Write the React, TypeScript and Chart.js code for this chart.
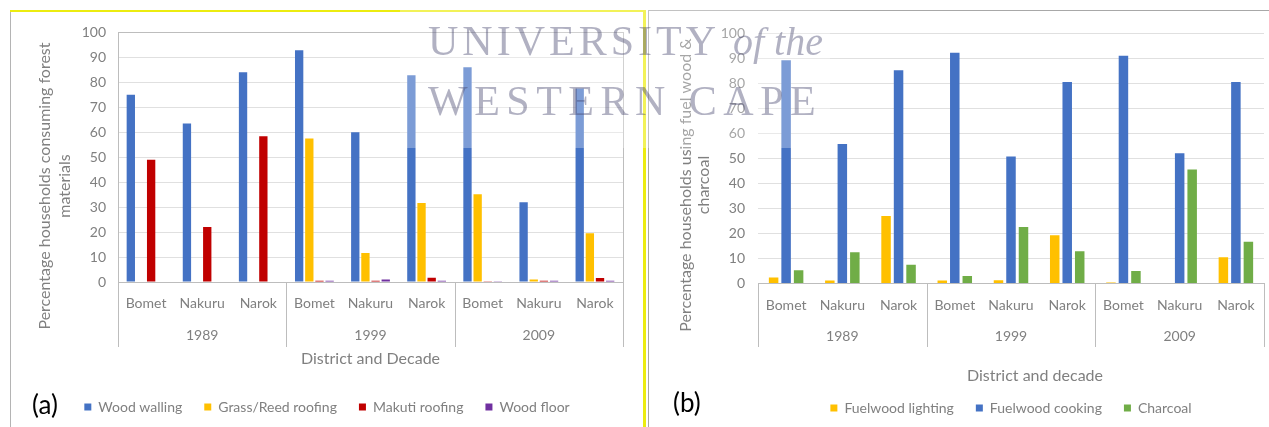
import React, { useEffect, useRef } from "react";
import { Chart, registerables } from "chart.js";

Chart.register(...registerables);

// ---------- data ----------
const districts = ["Bomet", "Nakuru", "Narok", "Bomet", "Nakuru", "Narok", "Bomet", "Nakuru", "Narok"];
const decades = ["1989", "1999", "2009"];

// panel (a) – forest materials
const woodWalling = [75, 63.5, 84, 92.8, 60, 82.8, 86, 32, 77.5];
const grassReedRoofing = [0, 0, 0, 57.5, 11.6, 31.7, 35.2, 1, 19.5];
const makutiRoofing = [49, 22, 58.4, 0.5, 0.5, 1.7, 0.3, 0.5, 1.6];
const woodFloor = [0, 0, 0, 0.5, 1, 0.5, 0.3, 0.5, 0.5];

// panel (b) – fuel wood & charcoal
const fuelwoodLighting = [2.4, 1.2, 27, 1.2, 1.3, 19.3, 0.4, 0.2, 10.5];
const fuelwoodCooking = [89.3, 55.8, 85.3, 92.3, 50.8, 80.6, 91.1, 52.1, 80.6];
const charcoal = [5.3, 12.5, 7.5, 3, 22.6, 12.9, 5, 45.6, 16.7];

const yMin = 0;
const yMax = 100;
const yStep = 10;

// ---------- styles ----------
const FONT = "Lato, 'Open Sans', sans-serif";
const TEXT = "#808080";
const GRID = "#e0e0e0";
const AXIS_LINE = "#bdbdbd";
const BLUE = "#4472c4";
const GOLD = "#ffc000";
const RED = "#c00000";
const PURPLE = "#7030a0";
const GREEN = "#70ad47";
const YELLOW = "#ecec10";

type FrameCfg = {
  yTitle: string[];
  yTitleX: number[];
  yTitleY: number;
  yearY: number;
  sepBottom: number;
  boxed: boolean;
  xTitle?: { text: string; x: number; y: number };
};

function framePlugin(cfg: FrameCfg) {
  return {
    id: "frame",
    afterDraw(chart: any) {
      const { ctx, chartArea } = chart;
      const xs = chart.scales.x;
      const per = districts.length / decades.length;
      const w = xs.getPixelForValue(1) - xs.getPixelForValue(0);
      ctx.save();
      ctx.strokeStyle = AXIS_LINE;
      ctx.lineWidth = 1;
      if (cfg.boxed) {
        ctx.strokeRect(
          Math.round(chartArea.left) + 0.5,
          Math.round(chartArea.top) + 0.5,
          Math.round(chartArea.right - chartArea.left),
          Math.round(chartArea.bottom - chartArea.top)
        );
      }
      for (let g = 0; g <= decades.length; g++) {
        const px = Math.round(xs.getPixelForValue(g * per) - w / 2) + 0.5;
        ctx.beginPath();
        ctx.moveTo(px, chartArea.bottom);
        ctx.lineTo(px, cfg.sepBottom);
        ctx.stroke();
      }
      ctx.fillStyle = TEXT;
      ctx.textAlign = "center";
      ctx.textBaseline = "middle";
      ctx.font = `14px ${FONT}`;
      decades.forEach((d, g) => {
        ctx.fillText(d, xs.getPixelForValue(g * per + (per - 1) / 2), cfg.yearY);
      });
      ctx.font = `16px ${FONT}`;
      if (cfg.xTitle) {
        ctx.fillText(cfg.xTitle.text, cfg.xTitle.x, cfg.xTitle.y);
      }
      cfg.yTitle.forEach((t, i) => {
        ctx.save();
        ctx.translate(cfg.yTitleX[i], cfg.yTitleY);
        ctx.rotate(-Math.PI / 2);
        ctx.fillText(t, 0, 0);
        ctx.restore();
      });
      ctx.restore();
    },
  };
}

function makeOptions(p: {
  padTop: number;
  padLeft: number;
  padRight: number;
  padBottom: number;
  yWidth: number;
  xHeight: number;
  xTickPad: number;
  yTickPad: number;
  xTitle: string;
  xTitleShow: boolean;
  xTitlePadBottom: number;
  legendFull: boolean;
}) {
  return {
    responsive: false,
    animation: false as const,
    layout: { padding: { left: p.padLeft, right: p.padRight, top: p.padTop, bottom: p.padBottom } },
    scales: {
      x: {
        grid: { display: false, drawTicks: false },
        border: { display: true, color: AXIS_LINE },
        ticks: { color: TEXT, font: { family: FONT, size: 14 }, padding: p.xTickPad, maxRotation: 0, autoSkip: false },
        title: {
          display: p.xTitleShow,
          text: p.xTitle,
          color: TEXT,
          font: { family: FONT, size: 16 },
          padding: { top: 0, bottom: p.xTitlePadBottom },
        },
        afterFit: (s: any) => {
          s.height = p.xHeight;
        },
      },
      y: {
        min: yMin,
        max: yMax,
        grid: { color: GRID, drawTicks: false },
        border: { display: false },
        ticks: { stepSize: yStep, color: TEXT, font: { family: FONT, size: 14 }, padding: p.yTickPad },
        afterFit: (s: any) => {
          s.width = p.yWidth;
        },
      },
    },
    plugins: {
      legend: {
        position: "bottom" as const,
        fullSize: p.legendFull,
        labels: {
          boxWidth: 7,
          boxHeight: 7,
          padding: 22,
          color: TEXT,
          font: { family: FONT, size: 14 },
        },
      },
      tooltip: { enabled: false },
    },
  };
}

function ChartA() {
  const ref = useRef<HTMLCanvasElement>(null);
  useEffect(() => {
    if (!ref.current) return;
    const bar = { borderWidth: 0, categoryPercentage: 0.724, barPercentage: 0.82 };
    const chart = new Chart(ref.current, {
      type: "bar",
      data: {
        labels: districts,
        datasets: [
          { label: "Wood walling", data: woodWalling, backgroundColor: BLUE, ...bar },
          { label: "Grass/Reed roofing", data: grassReedRoofing, backgroundColor: GOLD, ...bar },
          { label: "Makuti roofing", data: makutiRoofing, backgroundColor: RED, ...bar },
          { label: "Wood floor", data: woodFloor, backgroundColor: PURPLE, ...bar },
        ],
      },
      options: makeOptions({
        padTop: 20,
        padLeft: 20,
        padRight: 20,
        padBottom: 3,
        yWidth: 87,
        xHeight: 96,
        xTickPad: 13,
        yTickPad: 12,
        xTitle: "District and Decade",
        xTitleShow: true,
        xTitlePadBottom: 10,
        legendFull: true,
      }) as any,
      plugins: [
        framePlugin({
          yTitle: ["Percentage households consuming forest", "materials"],
          yTitleX: [34, 54],
          yTitleY: 174,
          yearY: 323,
          sepBottom: 335,
          boxed: true,
        }),
      ],
    });
    return () => chart.destroy();
  }, []);
  return <canvas ref={ref} width={632} height={415} style={{ width: 632, height: 415, display: "block" }} />;
}

function ChartB() {
  const ref = useRef<HTMLCanvasElement>(null);
  useEffect(() => {
    if (!ref.current) return;
    const bar = { borderWidth: 0, categoryPercentage: 0.667, barPercentage: 0.76 };
    const chart = new Chart(ref.current, {
      type: "bar",
      data: {
        labels: districts,
        datasets: [
          { label: "Fuelwood lighting", data: fuelwoodLighting, backgroundColor: GOLD, ...bar },
          { label: "Fuelwood cooking", data: fuelwoodCooking, backgroundColor: BLUE, ...bar },
          { label: "Charcoal", data: charcoal, backgroundColor: GREEN, ...bar },
        ],
      },
      options: makeOptions({
        padTop: 18,
        padLeft: 0,
        padRight: 5,
        padBottom: 2,
        yWidth: 108,
        xHeight: 95.6,
        xTickPad: 14,
        yTickPad: 13,
        xTitle: "District and decade",
        xTitleShow: false,
        xTitlePadBottom: 0,
        legendFull: false,
      }) as any,
      plugins: [
        framePlugin({
          yTitle: ["Percentage households using fuel wood &", "charcoal"],
          yTitleX: [36, 54],
          yTitleY: 173,
          yearY: 324,
          sepBottom: 335,
          boxed: false,
          xTitle: { text: "District and decade", x: 385, y: 364 },
        }),
      ],
    });
    return () => chart.destroy();
  }, []);
  return <canvas ref={ref} width={619} height={415} style={{ width: 619, height: 415, display: "block" }} />;
}

export default function App() {
  const abs = (s: React.CSSProperties): React.CSSProperties => ({ position: "absolute", ...s });
  const wm: React.CSSProperties = {
    position: "absolute",
    fontFamily: "'Liberation Serif', 'DejaVu Serif', serif",
    fontSize: 42,
    lineHeight: "42px",
    color: "rgba(70,70,110,0.42)",
    whiteSpace: "nowrap",
  };
  return (
    <div
      style={{
        position: "fixed",
        left: 0,
        top: 0,
        width: 1269,
        height: 427,
        overflow: "hidden",
        background: "#fff",
      }}
    >
      {/* panel (a) frame */}
      <div style={abs({ left: 10, top: 10, width: 1, height: 417, background: "#b4b4b4" })} />
      <div style={abs({ left: 10, top: 10, width: 636, height: 2, background: YELLOW })} />
      <div style={abs({ left: 643, top: 10, width: 3, height: 417, background: YELLOW })} />
      {/* panel (b) frame */}
      <div style={abs({ left: 648, top: 10, width: 1, height: 417, background: "#a8a8a8" })} />
      <div style={abs({ left: 648, top: 10, width: 621, height: 1, background: "#a8a8a8" })} />

      <div style={abs({ left: 11, top: 12 })}>
        <ChartA />
      </div>
      <div style={abs({ left: 650, top: 12 })}>
        <ChartB />
      </div>

      <div style={abs({ left: 32, top: 388, fontFamily: FONT, fontSize: 26, lineHeight: "32px", color: "#000" })}>(a)</div>
      <div style={abs({ left: 673, top: 386, fontFamily: FONT, fontSize: 26, lineHeight: "32px", color: "#000" })}>(b)</div>

      {/* watermark */}
      <div style={abs({ left: 400, top: 0, width: 430, height: 148, background: "rgba(255,255,255,0.3)" })} />
      <div style={{ ...wm, left: 428, top: 20, letterSpacing: 4 }}>
        UNIVERSITY <i style={{ letterSpacing: 0, fontSize: 40 }}>of the</i>
      </div>
      <div style={{ ...wm, left: 428, top: 80, letterSpacing: 6.5 }}>WESTERN CAPE</div>
    </div>
  );
}
